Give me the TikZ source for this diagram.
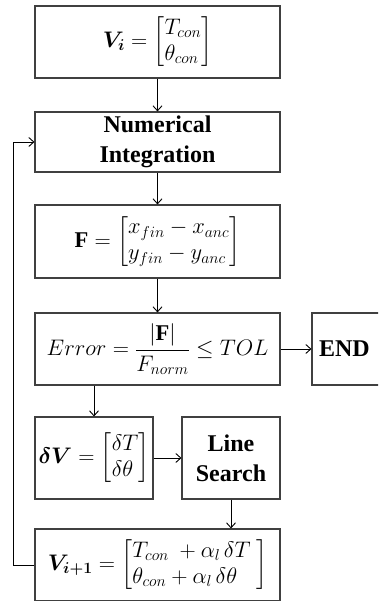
\RequirePackage{fix-cm}
\documentclass[tikz,border=0pt]{standalone}
\usepackage{amsmath}
\usepackage{bm}
\usepackage{fontspec}
\setmainfont{Liberation Serif}
\usetikzlibrary{arrows.meta}

% two-row column vector with left-aligned entries
\newcommand{\colvec}[2]{\left[\begin{array}{@{}l@{}} #1 \\ #2 \end{array}\right]}

\begin{document}
\begin{tikzpicture}[x=1pt,y=1pt,
  box/.style={draw=black!75, line width=1.1pt, fill=white, align=center,
              inner sep=0pt, font=\fontsize{22.5}{26}\selectfont},
  word/.style={font=\fontsize{24}{30}\selectfont\bfseries},
  flow/.style={line width=0.9pt, -{Straight Barb[length=5pt,width=9pt]}}]
  \useasboundingbox (0,0) rectangle (378,601);
  \clip (0,0) rectangle (378,601);

  % main column of the iteration
  \node[box, minimum width=245pt, minimum height=72pt] (vi) at (157.5,559)
    {$\bm{V}_{\bm{i}} = \colvec{T_{con}}{\theta_{con}}$};
  \node[box, word, minimum width=245pt, minimum height=60pt] (ni) at (157.5,459)
    {Numerical\\Integration};
  \node[box, minimum width=245pt, minimum height=73pt] (f) at (157.5,359.5)
    {$\mathbf{F} = \colvec{x_{fin} - x_{anc}}{y_{fin} - y_{anc}}$};
  \node[box, minimum width=245pt, minimum height=72pt] (err) at (157.5,252)
    {$Error = \dfrac{|\mathbf{F}|}{F_{norm}} \leq TOL$};
  \node[box, word, minimum width=80pt, minimum height=72pt,
        text width=66pt, align=left] (end) at (352,252)
    {END};

  % search step and update
  \node[box, minimum width=118pt, minimum height=82pt] (dv) at (94,143)
    {$\bm{\delta V} = \colvec{\delta T}{\delta\theta}$};
  \node[box, word, minimum width=98pt, minimum height=82pt] (ls) at (231,143)
    {Line\\Search};
  \node[box, minimum width=245pt, minimum height=72pt] (vn) at (157.5,36)
    {$\bm{V}_{\bm{i+1}} = \colvec{T_{con}\ + \alpha_l\,\delta T\ }{\theta_{con} + \alpha_l\,\delta\theta\ }$};

  % connectors
  \draw[flow] (vi.south) -- (ni.north);
  \draw[flow] (ni.south) -- (f.north);
  \draw[flow] (f.south) -- (err.north);
  \draw[flow] (err.east) -- (end.west);
  \draw[flow] (dv.north |- err.south) -- (dv.north);
  \draw[flow] (dv.east) -- (ls.west);
  \draw[flow] (ls.south) -- (ls.south |- vn.north);
  \coordinate (loop) at (13,0);
  \draw[flow] (vn.west) -- (loop |- vn.west) -- (loop |- ni.west) -- (ni.west);
\end{tikzpicture}
\end{document}
